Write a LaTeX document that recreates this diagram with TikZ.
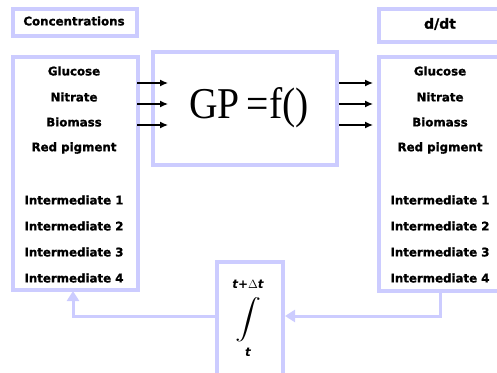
\documentclass[tikz,border=0pt]{standalone}
\usepackage{fontspec}
\setmainfont{DejaVu Sans}[BoldFeatures={FakeBold=1.2}]
\newfontfamily\formulafont{Liberation Serif}
\usetikzlibrary{arrows.meta}
\definecolor{lav}{HTML}{CCCCFF}
\tikzset{
  box/.style={draw=lav, line width=4pt, fill=white, inner sep=0pt, anchor=north west},
  lbl/.style={font=\bfseries\fontsize{11.8}{13}\selectfont, text=black, inner sep=0pt},
  limit/.style={inner sep=0pt, align=center, font=\bfseries\itshape\fontsize{12}{13}\selectfont},
  flow/.style={-{Latex[length=8pt,width=7pt]}, line width=1.3pt, black},
  feedback/.style={-{Triangle[length=10pt,width=12pt]}, draw=lav, line width=3pt}
}
% a tall integral sign with its true extent reserved
\newcommand{\bigintegral}{\raisebox{0pt}[29pt][19pt]{\fontsize{10}{12}\selectfont\scalebox{2.6}[2.0]{$\displaystyle\int$}}}
\begin{document}
\begin{tikzpicture}[x=1pt,y=-1pt]
\useasboundingbox (0,0) rectangle (497,372);

% header boxes
\node[box, minimum width=124pt, minimum height=27pt] (conchead) at (11,7) {};
\node[lbl] at (74,21) {Concentrations};
\node[box, minimum width=130pt, minimum height=33pt] (dthead) at (377,7) {};
\node[lbl, font=\bfseries\fontsize{14}{16}\selectfont] at (440,24) {d/dt};

% concentration list
\node[box, minimum width=125pt, minimum height=233pt] (conc) at (11,55) {};
\foreach \t/\y in {Glucose/71, Nitrate/97, Biomass/122, Red pigment/148,
  Intermediate 1/200, Intermediate 2/226, Intermediate 3/252, Intermediate 4/278}
  \node[lbl] at (74,\y) {\t};

% derivative list
\node[box, minimum width=130pt, minimum height=234pt] (deriv) at (377,55) {};
\foreach \t/\y in {Glucose/71, Nitrate/97, Biomass/122, Red pigment/148,
  Intermediate 1/200, Intermediate 2/226, Intermediate 3/252, Intermediate 4/278}
  \node[lbl] at (440,\y) {\t};

% model box
\node[box, minimum width=184pt, minimum height=113pt] (gp) at (151,50) {};
\node[inner sep=0pt, font=\formulafont\fontsize{44}{46}\selectfont] at (249,108) {\scalebox{0.9}[1]{GP\hspace{-3pt} =f()}};

% integrator with its limits
\node[box, minimum width=66pt, minimum height=114pt] (integ) at (215,260) {};
\node[limit] (intsign) at (248,318) {t+$\Delta$t\\[7pt] \bigintegral\\[3pt] t};

% inputs into the model
\coordinate (i1) at (137,83);  \coordinate (j1) at (168,83);
\coordinate (i2) at (137,104); \coordinate (j2) at (168,104);
\coordinate (i3) at (137,125); \coordinate (j3) at (168,125);
\draw[flow] (i1) -- (j1);
\draw[flow] (i2) -- (j2);
\draw[flow] (i3) -- (j3);

% outputs of the model
\coordinate (o1) at (339,83);  \coordinate (p1) at (373,83);
\coordinate (o2) at (339,104); \coordinate (p2) at (373,104);
\coordinate (o3) at (339,125); \coordinate (p3) at (373,125);
\draw[flow] (o1) -- (p1);
\draw[flow] (o2) -- (p2);
\draw[flow] (o3) -- (p3);

% feedback loop through the integrator
\coordinate (dout) at (440,291);
\draw[feedback] (dout) |- (integ.east |- 0,316);
\coordinate (cin) at (73,291);
\draw[feedback] (integ.west |- 0,316) -| (cin);
\end{tikzpicture}
\end{document}
